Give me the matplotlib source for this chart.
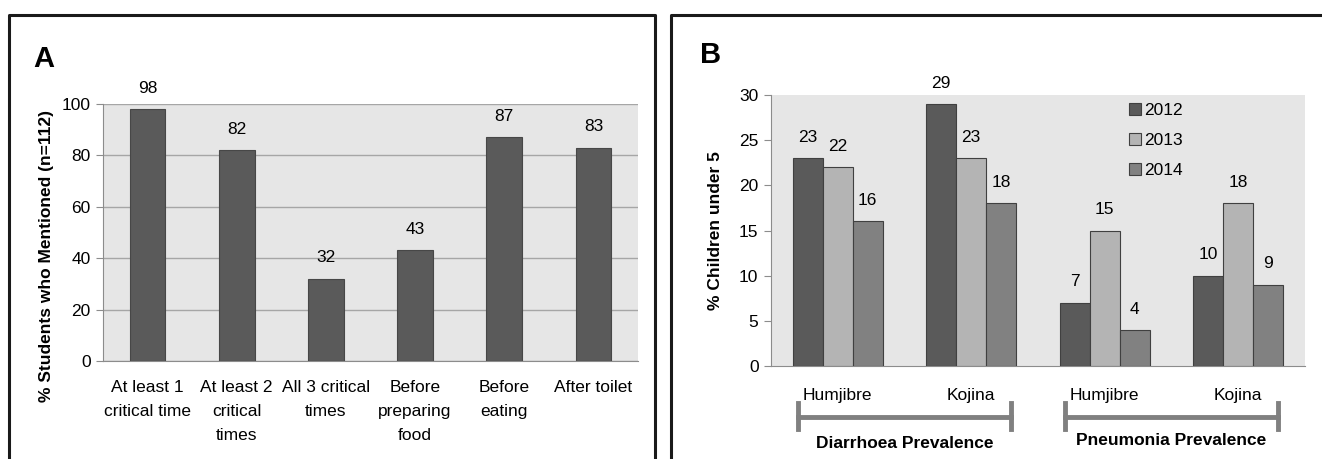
import matplotlib.pyplot as plt
import numpy as np
from matplotlib.lines import Line2D
from matplotlib.patches import Patch
import matplotlib.transforms as mtransforms

plt.rcParams["font.family"] = ["Liberation Sans", "DejaVu Sans"]

# --- data: panel A ---
a_labels = ["At least 1\ncritical time", "At least 2\ncritical\ntimes", "All 3 critical\ntimes",
            "Before\npreparing\nfood", "Before\neating", "After toilet"]
a_values = [98, 82, 32, 43, 87, 83]

# --- data: panel B ---
b_sites = ["Humjibre", "Kojina", "Humjibre", "Kojina"]
b_years = ["2012", "2013", "2014"]
b_2012 = [23, 29, 7, 10]
b_2013 = [22, 23, 15, 18]
b_2014 = [16, 18, 4, 9]
b_groups = ["Diarrhoea Prevalence", "Pneumonia Prevalence"]

BG = "#e6e6e6"
GRID = "#a6a6a6"
SPINE = "#8c8c8c"
B_COLORS = ["#5a5a5a", "#b4b4b4", "#818181"]
FS = 12.5

fig = plt.figure(figsize=(13.22, 4.59), dpi=100)
W, H = 1322, 459


def px_rect(l, t, r, b):
    return [l / W, 1 - b / H, (r - l) / W, (b - t) / H]


# panel borders
def fig_line(xs, ys):
    fig.add_artist(Line2D([x / W for x in xs], [1 - y / H for y in ys],
                          color="#1a1a1a", lw=2.2, solid_capstyle="butt"))


fig_line([9, 9, 655, 655], [470, 15, 15, 470])
fig_line([671, 671, 1330], [470, 15, 15])

fig.text(33 / W, 1 - 59 / H, "A", fontsize=21, fontweight="bold", va="center")
fig.text(700 / W, 1 - 55 / H, "B", fontsize=21, fontweight="bold", va="center")

# ---------- Panel A ----------
axA = fig.add_axes(px_rect(103, 104, 638, 361))
x = np.arange(len(a_values))
axA.set_facecolor(BG)
axA.bar(x, a_values, width=0.4, color="#5a5a5a", edgecolor="#474747", linewidth=0.8, zorder=3)
axA.set_ylim(0, 100)
axA.set_xlim(-0.5, len(a_values) - 0.5)
axA.set_yticks(range(0, 101, 20))
axA.yaxis.grid(True, color=GRID, linewidth=1.0, zorder=0)
axA.set_axisbelow(True)
for s in ["top", "right"]:
    axA.spines[s].set_visible(False)
axA.spines["left"].set_color(SPINE)
axA.spines["bottom"].set_color(SPINE)
axA.tick_params(axis="y", colors=SPINE, labelcolor="black", labelsize=FS, length=5, pad=4)
axA.set_xticks(x)
axA.set_xticklabels(a_labels, fontsize=FS, linespacing=1.72, va="top")
axA.tick_params(axis="x", length=0, pad=14)
for xi, v in zip(x, a_values):
    axA.annotate(str(v), (xi, v), xytext=(0, 15), textcoords="offset points",
                 ha="center", va="center", fontsize=FS)
axA.set_ylabel("% Students who Mentioned (n=112)", fontsize=12.5, fontweight="bold")
axA.yaxis.set_label_coords(-0.091, 0.41)

# ---------- Panel B ----------
axB = fig.add_axes(px_rect(771, 95, 1305, 366))
axB.set_facecolor(BG)
g = np.arange(len(b_sites))
bw = 0.225
for k, (vals, col, yr) in enumerate(zip([b_2012, b_2013, b_2014], B_COLORS, b_years)):
    xs = g + (k - 1) * bw
    axB.bar(xs, vals, width=bw, color=col, edgecolor="#404040", linewidth=0.8, label=yr, zorder=3)
    for xi, v in zip(xs, vals):
        axB.annotate(str(v), (xi, v), xytext=(0, 15), textcoords="offset points",
                     ha="center", va="center", fontsize=FS)
axB.set_ylim(0, 30)
axB.set_xlim(-0.5, len(b_sites) - 0.5)
axB.set_yticks(range(0, 31, 5))
for s in ["top", "right"]:
    axB.spines[s].set_visible(False)
axB.spines["left"].set_color(SPINE)
axB.spines["bottom"].set_color(SPINE)
axB.tick_params(axis="y", colors=SPINE, labelcolor="black", labelsize=FS, length=5, pad=4)
axB.set_xticks(g)
axB.set_xticklabels(b_sites, fontsize=FS)
axB.tick_params(axis="x", length=0, pad=16)
axB.set_ylabel("% Children under 5", fontsize=12.5, fontweight="bold")
axB.yaxis.set_label_coords(-0.089, 0.5)

handles = [Patch(facecolor=c, edgecolor="#404040", linewidth=0.8) for c in B_COLORS]
axB.legend(handles, b_years, loc="upper left", bbox_to_anchor=(0.65, 1.01), frameon=False,
           fontsize=FS, handlelength=0.7, handleheight=0.7, handletextpad=0.2,
           labelspacing=0.85, borderaxespad=0.2)

# group brackets under the site labels
trans = mtransforms.blended_transform_factory(axB.transData, axB.transAxes)
for i, name in enumerate(b_groups):
    x0, x1 = g[2 * i] - 0.3, g[2 * i + 1] + 0.3
    yb = -0.188
    axB.add_line(Line2D([x0, x1], [yb, yb], transform=trans, color="#808080", lw=3.5, clip_on=False))
    for xe in (x0, x1):
        axB.add_line(Line2D([xe, xe], [yb - 0.045, yb + 0.05], transform=trans, color="#808080",
                            lw=3.5, clip_on=False))
    axB.text((x0 + x1) / 2, -0.285 + 0.01 * i, name, transform=trans, ha="center", va="center",
             fontsize=12.5, fontweight="bold")

fig.savefig("out.png", dpi=100)
